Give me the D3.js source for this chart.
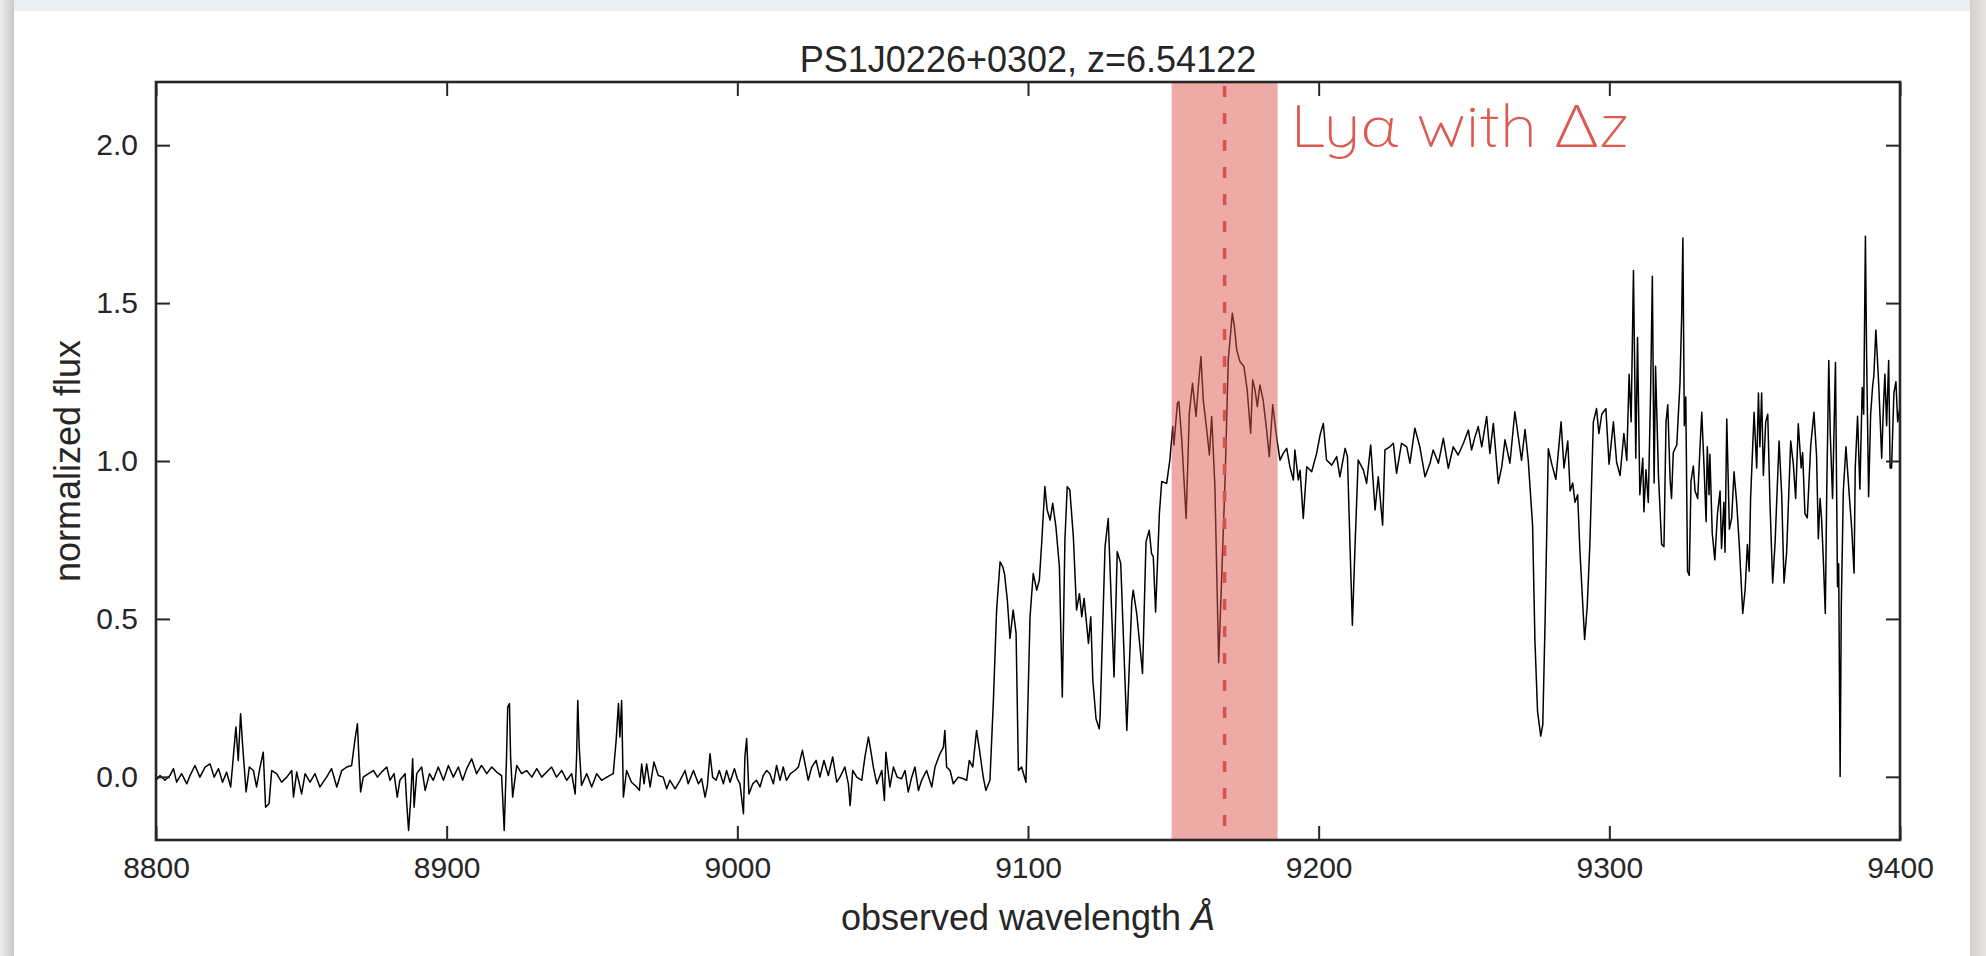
<!DOCTYPE html>
<html>
<head>
<meta charset="utf-8">
<script src="https://cdn.jsdelivr.net/npm/d3@7"></script>
<style>
  html, body { margin: 0; padding: 0; background: #ebebeb; }
  svg { display: block; }
</style>
</head>
<body>
<svg id="chart" width="1986" height="956"></svg>
<script>
// ---- spectrum of PS1J0226+0302 (observed frame) ----
const wavelengths = [
  8800.0, 8801.4, 8803.1, 8804.8, 8806.0, 8807.1, 8808.8, 8810.6, 8811.7, 8813.4,
  8815.1, 8816.9, 8818.6, 8820.0, 8821.5, 8822.9, 8824.3, 8825.7, 8826.6, 8827.5,
  8828.3, 8829.1, 8829.8, 8831.0, 8832.1, 8833.5, 8834.6, 8835.8, 8836.9, 8837.7,
  8838.9, 8839.8, 8841.5, 8843.2, 8845.0, 8846.7, 8847.3, 8848.4, 8850.1, 8851.3,
  8853.0, 8854.7, 8856.4, 8858.7, 8860.4, 8862.2, 8863.9, 8865.6, 8867.3, 8868.5,
  8869.3, 8869.8, 8870.4, 8871.3, 8873.1, 8874.8, 8876.2, 8877.6, 8879.4, 8880.5,
  8881.9, 8883.0, 8883.9, 8885.7, 8886.2, 8886.9, 8887.6, 8888.3, 8888.8, 8889.7,
  8891.4, 8892.6, 8894.1, 8895.4, 8897.1, 8898.9, 8900.6, 8902.3, 8904.0, 8905.5,
  8906.9, 8908.6, 8910.3, 8912.0, 8913.8, 8915.5, 8917.2, 8918.9, 8919.8, 8920.6,
  8921.0, 8921.6, 8922.0, 8922.7, 8924.1, 8925.8, 8927.5, 8929.3, 8931.0, 8932.7,
  8934.4, 8936.1, 8937.8, 8939.6, 8941.3, 8943.0, 8944.2, 8944.7, 8945.1, 8945.6,
  8946.4, 8948.2, 8949.9, 8951.6, 8953.3, 8955.1, 8957.3, 8958.3, 8959.1, 8959.6,
  8960.2, 8960.8, 8961.9, 8963.6, 8965.4,
  8966.3, 8967.1, 8967.9, 8968.8, 8970.0, 8971.3, 8972.8, 8974.5, 8975.7, 8976.8,
  8978.6, 8980.3, 8982.0, 8983.1, 8984.9, 8986.6, 8987.7, 8988.9, 8989.7, 8990.6,
  8991.5, 8992.7, 8993.8, 8995.2, 8996.3, 8997.5, 8999.0, 9000.0, 9000.9, 9002.1,
  9002.6, 9003.2, 9004.0, 9005.3, 9006.6, 9007.8, 9008.9, 9010.1, 9011.2, 9012.4,
  9013.5, 9014.7, 9015.8, 9016.9, 9018.3, 9019.8, 9021.0, 9022.4, 9023.3, 9024.4,
  9025.6, 9027.1, 9028.4, 9029.8, 9031.3, 9032.8, 9034.2, 9035.3, 9037.0, 9038.2,
  9038.8, 9039.7, 9041.1, 9042.8, 9043.9, 9045.1, 9045.9, 9046.8, 9048.0, 9049.7,
  9050.6, 9051.1, 9052.5, 9053.7, 9055.0, 9056.5, 9057.7, 9058.8, 9060.0, 9061.1,
  9062.3, 9063.4, 9065.1, 9066.9, 9068.0, 9069.7, 9070.9, 9071.4, 9072.0, 9073.2,
  9074.3, 9076.0, 9077.8, 9078.9, 9079.8, 9081.0, 9082.3, 9083.5, 9084.6, 9085.5,
  9086.9, 9088.1, 9089.2, 9090.4, 9091.3, 9091.9, 9092.9, 9093.8, 9094.9, 9095.9,
  9096.7, 9097.8, 9099.3, 9100.7, 9101.8, 9103.0, 9103.9, 9104.7, 9105.8, 9106.6,
  9107.6, 9108.5, 9109.6, 9110.8, 9111.8, 9112.7, 9113.5, 9114.4, 9115.6, 9116.7,
  9117.7, 9118.5, 9119.3, 9120.8, 9121.6, 9122.3, 9123.4, 9124.5,
  9124.8, 9126.5, 9127.6, 9129.6, 9130.7, 9131.9, 9134.0, 9135.7, 9136.2, 9137.4,
  9139.1, 9139.4, 9140.6, 9141.7, 9142.5, 9143.1, 9143.9, 9145.2, 9146.0, 9147.7,
  9148.8, 9149.8, 9150.2, 9151.4, 9151.9, 9152.9, 9154.4, 9155.5, 9156.6, 9157.8,
  9158.6, 9159.5, 9160.3, 9161.5, 9162.4, 9163.2, 9164.3, 9165.6, 9166.6, 9167.8,
  9168.9, 9170.3, 9171.0, 9171.8, 9172.9, 9174.3, 9175.4, 9176.6, 9177.3, 9178.1,
  9178.9, 9179.8, 9180.9, 9182.1, 9183.0, 9184.2, 9185.5, 9186.7, 9187.8, 9189.0,
  9190.1, 9191.3, 9191.8, 9193.0, 9193.6, 9194.7, 9195.9, 9197.6, 9199.3, 9200.5,
  9201.6, 9202.7, 9204.5, 9206.2, 9207.3, 9209.1, 9209.9, 9210.8, 9211.6, 9212.5,
  9213.6, 9215.4, 9216.5, 9217.9, 9219.4, 9220.5, 9222.0, 9222.8, 9224.5, 9225.7,
  9226.8, 9228.5, 9230.3, 9231.4, 9233.1, 9234.8, 9236.6, 9238.3, 9239.4, 9241.2,
  9242.9, 9244.6, 9246.3, 9248.0, 9249.8, 9251.5, 9252.6, 9253.8, 9254.9, 9256.1,
  9257.8, 9258.9, 9260.1, 9261.8, 9263.0, 9264.1, 9265.8, 9267.5,
  9269.8, 9271.0, 9272.1, 9273.6, 9274.4, 9275.3, 9276.4, 9277.1, 9277.9, 9279.0,
  9280.2, 9281.6, 9283.4, 9284.4, 9285.7, 9286.5, 9287.4, 9288.2, 9289.1, 9289.9,
  9291.5, 9292.4, 9293.3, 9294.5, 9295.6, 9296.4, 9297.4, 9298.8, 9299.9, 9301.4,
  9302.5, 9303.7, 9305.0, 9306.0, 9306.8, 9307.5, 9308.3, 9309.1, 9309.7, 9310.5,
  9311.5, 9311.9, 9312.6, 9313.4, 9314.2, 9314.8, 9315.4, 9315.9, 9316.9, 9318.0,
  9318.8, 9319.5, 9320.1, 9320.9, 9321.4, 9322.0, 9323.2, 9324.3, 9324.9, 9325.3,
  9325.8, 9326.3, 9326.9, 9327.5, 9328.1, 9328.9, 9329.5, 9330.4, 9331.2, 9331.8,
  9332.6, 9333.3, 9333.7, 9334.3, 9334.6, 9335.4, 9336.3, 9337.2, 9338.1, 9338.6,
  9339.4, 9339.8, 9340.4, 9341.3, 9342.1, 9342.9, 9343.8, 9344.7, 9345.9, 9346.7,
  9347.5, 9348.1, 9348.6, 9349.8, 9350.7, 9351.3, 9351.8, 9352.4, 9353.0, 9353.8,
  9354.5, 9355.3, 9356.2, 9357.0, 9358.4, 9359.3, 9360.1, 9361.0, 9362.4, 9363.3,
  9364.1, 9365.0, 9366.0, 9366.5, 9367.3, 9368.1, 9369.3, 9370.4, 9371.3, 9371.9,
  9372.5, 9373.0, 9373.6, 9374.3, 9374.8, 9375.5, 9376.0, 9376.8, 9377.8, 9378.5,
  9378.9, 9379.4, 9379.8, 9380.5, 9381.4, 9382.4, 9383.4, 9384.2, 9384.6, 9385.4,
  9386.2, 9387.0, 9387.5, 9388.1, 9388.5, 9389.2, 9389.9, 9390.6, 9391.0, 9391.7,
  9392.6, 9393.1, 9393.7, 9394.3, 9394.8, 9395.4, 9396.1, 9396.6, 9397.1, 9397.9,
  9398.6, 9399.2, 9400.0
];

const fluxes = [
  -0.011, 0.004, -0.011, 0.004, 0.026, -0.017, 0.010, -0.022, 0.004, 0.036,
  -0.001, 0.031, 0.041, -0.001, 0.026, -0.017, 0.015, -0.032, 0.063, 0.158,
  0.052, 0.200, 0.100, -0.048, 0.031, 0.020, -0.032, 0.031, 0.078, -0.096,
  -0.085, 0.020, 0.010, -0.017, -0.001, 0.020, -0.064, 0.015, -0.054, 0.010,
  -0.017, 0.010, -0.032, -0.001, 0.026, -0.032, 0.020, 0.031, 0.036, 0.121,
  0.168, 0.063, -0.048, -0.001, 0.010, 0.020, -0.001, 0.015, 0.031, -0.011,
  0.010, -0.064, -0.011, 0.010, -0.075, -0.170, -0.075, 0.057, -0.096, 0.010,
  0.031, -0.043, 0.010, -0.011, 0.031, -0.011, 0.036, -0.001, 0.031, -0.011,
  0.026, 0.057, 0.010, 0.036, 0.010, 0.031, 0.015, 0.004, -0.170, 0.063,
  0.221, 0.232, 0.063, -0.064, 0.036, 0.010, 0.020, -0.001, 0.026, -0.001,
  0.015, 0.031, -0.001, 0.020, -0.011, 0.010, -0.054, 0.063, 0.242, 0.094,
  -0.027, 0.010, -0.032, 0.010, -0.011, -0.001, 0.010, 0.115, 0.232, 0.126,
  0.242, -0.064, 0.020, -0.017, -0.032,
  -0.043, 0.041, -0.022, 0.041, -0.032, 0.047, 0.004, -0.001, -0.038, -0.011,
  -0.038, -0.011, 0.020, -0.022, 0.020, -0.022, -0.006, -0.064, -0.027, 0.073,
  -0.001, -0.011, 0.020, -0.022, 0.020, -0.017, 0.026, -0.006, -0.022, -0.117,
  0.063, 0.121, -0.054, -0.022, -0.011, -0.032, 0.004, 0.020, 0.010, -0.022,
  0.036, -0.011, 0.031, -0.011, 0.010, 0.020, 0.031, 0.084, 0.041, -0.011,
  0.031, 0.052, -0.001, 0.052, 0.004, 0.063, -0.017, -0.001, 0.031, -0.022,
  -0.091, 0.020, -0.001, -0.011, 0.063, 0.126, 0.084, 0.031, -0.022, 0.020,
  -0.075, 0.078, -0.032, 0.031, -0.001, -0.006, 0.020, -0.048, -0.001, 0.031,
  -0.043, -0.011, 0.020, -0.032, 0.031, 0.073, 0.094, 0.147, 0.031, 0.020,
  -0.022, -0.001, -0.006, -0.011, 0.052, 0.031, 0.147, 0.073, -0.001, -0.043,
  -0.011, 0.242, 0.528, 0.681, 0.665, 0.644, 0.559, 0.438, 0.528, 0.454,
  0.020, 0.031, -0.017, 0.507, 0.644, 0.591, 0.623, 0.739, 0.919, 0.845,
  0.813, 0.866, 0.792, 0.665, 0.253, 0.750, 0.919, 0.908, 0.760, 0.528,
  0.580, 0.507, 0.565, 0.422, 0.507, 0.306, 0.184, 0.152,
  0.189, 0.728, 0.818, 0.316, 0.713, 0.676, 0.147, 0.554, 0.591, 0.517,
  0.358, 0.327, 0.744, 0.781, 0.707, 0.697, 0.522, 0.834, 0.935, 0.929,
  1.003, 1.109, 1.051, 1.183, 1.188, 1.067, 0.818, 1.151, 1.246, 1.141,
  1.236, 1.331, 1.193, 1.098, 1.019, 1.141, 0.919, 0.361, 0.623, 0.940,
  1.320, 1.468, 1.426, 1.352, 1.315, 1.299, 1.225, 1.088, 1.257, 1.225,
  1.172, 1.241, 1.193, 1.098, 1.014, 1.178, 1.077, 1.003, 1.024, 1.040,
  0.982, 0.940, 1.035, 0.940, 0.971, 0.818, 0.982, 0.966, 1.024, 1.083,
  1.119, 1.003, 0.987, 1.014, 0.950, 1.040, 1.014, 0.728, 0.480, 0.728,
  1.003, 0.971, 0.929, 1.051, 0.845, 0.950, 0.797, 1.035, 1.045, 1.056,
  0.961, 1.056, 1.045, 0.993, 1.104, 1.045, 0.950, 0.993, 1.035, 0.993,
  1.072, 0.977, 1.045, 1.019, 1.056, 1.098, 1.035, 1.077, 1.109, 1.045,
  1.141, 1.024, 1.119, 0.929, 0.982, 1.067, 0.993, 1.156,
  1.002, 1.100, 1.002, 0.796, 0.432, 0.208, 0.129, 0.165, 0.493, 1.039,
  0.990, 0.942, 1.124, 0.978, 1.063, 0.905, 0.930, 0.869, 0.893, 0.711,
  0.435, 0.541, 0.736, 1.124, 1.166, 1.087, 1.148, 1.166, 0.990, 1.124,
  0.996, 0.954, 1.087, 1.002, 1.275, 1.124, 1.603, 1.009, 1.391, 0.893,
  1.009, 0.839, 0.972, 0.869, 1.221, 1.585, 0.930, 1.300, 0.954, 0.736,
  0.729, 1.124, 1.178, 0.942, 0.881, 1.027, 1.051, 1.245, 1.463, 1.706,
  1.112, 1.203, 0.651, 0.638, 0.936, 0.984, 0.905, 0.881, 1.045, 1.154,
  0.978, 0.808, 1.045, 0.893, 1.021, 0.772, 0.687, 0.833, 0.905, 0.723,
  0.869, 0.711, 1.133, 0.784, 0.820, 0.966, 0.869, 0.736, 0.517, 0.590,
  0.736, 0.651, 0.881, 1.154, 0.978, 1.215, 1.045, 1.215, 0.954, 1.124,
  1.148, 0.857, 0.614, 0.736, 1.063, 0.893, 0.614, 0.711, 1.063, 0.990,
  0.881, 1.118, 0.978, 1.027, 0.833, 0.820, 1.051, 1.154, 1.015, 0.754,
  0.881, 0.820, 0.693, 0.517, 0.905, 1.318, 1.087, 0.881, 1.312, 0.602,
  0.675, 0.001, 0.541, 0.905, 1.045, 0.911, 0.784, 0.645, 0.978, 1.142,
  0.911, 1.233, 1.148, 1.712, 1.342, 0.887, 1.148, 1.239, 1.269, 1.415,
  1.257, 1.148, 1.009, 1.172, 1.275, 1.112, 1.318, 0.978, 0.978, 1.215,
  1.251, 1.124, 1.172
];

// ---- axes and annotation values ----
const xTicks = [8800, 8900, 9000, 9100, 9200, 9300, 9400];
const yTicks = [0.0, 0.5, 1.0, 1.5, 2.0];
const xDomain = [8800, 9400];
const yDomain = [-0.2, 2.2];

const objectName = "PS1J0226+0302";
const redshift = 6.54122;
const redshiftError = 0.015;
const lyaRest = 1215.67;          // Lyman-alpha rest wavelength, Angstrom
const lyaLabel = "Ly\u03b1 with \u0394z";

// ---- layout ----
const W = 1986, H = 956;
const plot = { left: 156, top: 82, right: 1900, bottom: 840 };
const ink = "#262626";
const sans = "'Liberation Sans', Arial, Helvetica, sans-serif";

const svg = d3.select("#chart");

// page backdrop with a white card
const defs = svg.append("defs");
const gl = defs.append("linearGradient").attr("id", "shadeLeft").attr("x1", 0).attr("x2", 1);
gl.append("stop").attr("offset", "0%").attr("stop-color", "#efefef");
gl.append("stop").attr("offset", "100%").attr("stop-color", "#c8c8c8");
const gr = defs.append("linearGradient").attr("id", "shadeRight").attr("x1", 0).attr("x2", 1);
gr.append("stop").attr("offset", "0%").attr("stop-color", "#d6d1ce");
gr.append("stop").attr("offset", "100%").attr("stop-color", "#e6e3e1");
const gt = defs.append("linearGradient").attr("id", "shadeTop").attr("x1", 0).attr("x2", 0).attr("y1", 0).attr("y2", 1);
gt.append("stop").attr("offset", "0%").attr("stop-color", "#eceef0");
gt.append("stop").attr("offset", "100%").attr("stop-color", "#e4e4e4");

svg.append("rect").attr("width", W).attr("height", H).attr("fill", "url(#shadeTop)");
svg.append("rect").attr("x", 0).attr("y", 0).attr("width", 14).attr("height", H).attr("fill", "url(#shadeLeft)");
svg.append("rect").attr("x", 1970).attr("y", 0).attr("width", 16).attr("height", H).attr("fill", "url(#shadeRight)");
svg.append("rect").attr("x", 14).attr("y", 11).attr("width", 1956).attr("height", H - 11).attr("fill", "#ffffff");

defs.append("clipPath").attr("id", "plotClip")
  .append("rect")
  .attr("x", plot.left).attr("y", plot.top)
  .attr("width", plot.right - plot.left).attr("height", plot.bottom - plot.top);

// scales
const x = d3.scaleLinear().domain(xDomain).range([plot.left, plot.right]);
const y = d3.scaleLinear().domain(yDomain).range([plot.bottom, plot.top]);

const spectrum = wavelengths.map((w, i) => ({ w, f: fluxes[i] }));

// spectrum trace
const line = d3.line().x(d => x(d.w)).y(d => y(d.f));
svg.append("path")
  .datum(spectrum)
  .attr("clip-path", "url(#plotClip)")
  .attr("d", line)
  .attr("fill", "none")
  .attr("stroke", "#000")
  .attr("stroke-width", 1.5)
  .attr("stroke-linejoin", "round");

// Ly-alpha window for the redshift uncertainty
const lyaObs = lyaRest * (1 + redshift);
const lyaLo = lyaRest * (1 + redshift - redshiftError);
const lyaHi = lyaRest * (1 + redshift + redshiftError);

svg.append("rect")
  .attr("x", x(lyaLo)).attr("y", plot.top)
  .attr("width", x(lyaHi) - x(lyaLo)).attr("height", plot.bottom - plot.top)
  .attr("fill", "#dc5650").attr("fill-opacity", 0.5);

svg.append("line")
  .attr("x1", x(lyaObs)).attr("x2", x(lyaObs))
  .attr("y1", plot.top + 4).attr("y2", plot.bottom)
  .attr("stroke", "#d9534c").attr("stroke-width", 3.5)
  .attr("stroke-dasharray", "11,16");

// axes: ticks point inward on all four sides
function styleAxis(g) {
  g.select(".domain").remove();
  g.selectAll(".tick line").attr("stroke", ink).attr("stroke-width", 2);
  g.selectAll(".tick text").attr("fill", ink).attr("font-family", sans).attr("font-size", 30);
}

svg.append("g")
  .attr("transform", `translate(0,${plot.bottom})`)
  .call(d3.axisBottom(x).tickValues(xTicks).tickFormat(d3.format("d"))
    .tickSizeInner(-14).tickSizeOuter(0).tickPadding(17))
  .call(styleAxis);

svg.append("g")
  .attr("transform", `translate(0,${plot.top})`)
  .call(d3.axisTop(x).tickValues(xTicks).tickFormat("")
    .tickSizeInner(-14).tickSizeOuter(0))
  .call(styleAxis);

svg.append("g")
  .attr("transform", `translate(${plot.left},0)`)
  .call(d3.axisLeft(y).tickValues(yTicks).tickFormat(d3.format(".1f"))
    .tickSizeInner(-14).tickSizeOuter(0).tickPadding(18))
  .call(styleAxis);

svg.append("g")
  .attr("transform", `translate(${plot.right},0)`)
  .call(d3.axisRight(y).tickValues(yTicks).tickFormat("")
    .tickSizeInner(-14).tickSizeOuter(0))
  .call(styleAxis);

// frame
svg.append("rect")
  .attr("x", plot.left).attr("y", plot.top)
  .attr("width", plot.right - plot.left).attr("height", plot.bottom - plot.top)
  .attr("fill", "none").attr("stroke", ink).attr("stroke-width", 2.6);

// title
svg.append("text")
  .attr("x", (plot.left + plot.right) / 2).attr("y", 72)
  .attr("text-anchor", "middle")
  .attr("font-family", sans).attr("font-size", 36).attr("fill", ink)
  .text(`${objectName}, z=${redshift}`);

// axis labels
const xl = svg.append("text")
  .attr("x", (plot.left + plot.right) / 2).attr("y", 930)
  .attr("text-anchor", "middle")
  .attr("font-family", sans).attr("font-size", 36).attr("fill", ink);
xl.append("tspan").text("observed wavelength ");
xl.append("tspan").attr("font-style", "italic").text("\u00c5");

svg.append("text")
  .attr("transform", `translate(80,${(plot.top + plot.bottom) / 2}) rotate(-90)`)
  .attr("text-anchor", "middle")
  .attr("font-family", sans).attr("font-size", 36).attr("fill", ink)
  .text("normalized flux");

// annotation
svg.append("text")
  .attr("x", x(lyaHi) + 13).attr("y", 147)
  .attr("font-family", "Quicksand, Lato, 'Open Sans', sans-serif")
  .attr("font-weight", 300)
  .attr("font-size", 60)
  .attr("fill", "#dc5a50")
  .attr("textLength", 339).attr("lengthAdjust", "spacingAndGlyphs")
  .text(lyaLabel);
</script>
</body>
</html>
